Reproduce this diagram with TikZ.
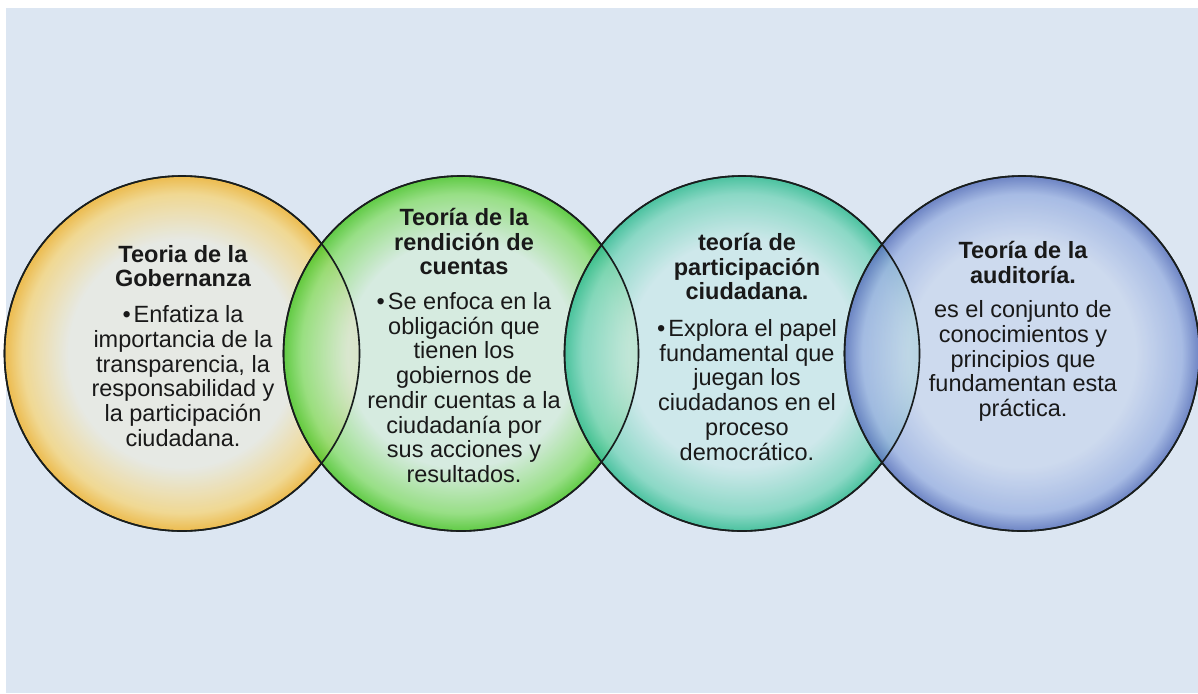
\documentclass[tikz,border=0pt]{standalone}
\usepackage{fontspec}
\setmainfont{Liberation Sans}
\usetikzlibrary{positioning}
\definecolor{bgblue}{RGB}{220,230,242}
\definecolor{rimgray}{RGB}{25,30,30}
\definecolor{bubin}{RGB}{255,255,255}
\definecolor{bubmid}{RGB}{200,200,200}
\definecolor{bubout}{RGB}{100,100,100}
\definecolor{gobin}{RGB}{232,234,226}
\definecolor{gobmid}{RGB}{244,214,130}
\definecolor{gobout}{RGB}{240,180,50}
\definecolor{renin}{RGB}{214,236,222}
\definecolor{renmid}{RGB}{140,222,115}
\definecolor{renout}{RGB}{75,198,40}
\definecolor{parin}{RGB}{204,233,234}
\definecolor{parmid}{RGB}{125,214,190}
\definecolor{parout}{RGB}{50,188,145}
\definecolor{audin}{RGB}{203,216,238}
\definecolor{audmid}{RGB}{158,180,226}
\definecolor{audout}{RGB}{90,115,188}
\pgfdeclareradialshading[bubin,bubmid,bubout]{bubble}{\pgfpoint{0bp}{0bp}}{color(0bp)=(bubin); color(16bp)=(bubin); color(22.5bp)=(bubmid); color(25bp)=(bubout); color(50bp)=(bubout)}
\tikzset{
  bubble/.style={circle, minimum size=355pt, inner sep=0pt, draw=rimgray, line width=1.6pt, fill opacity=0.85, shading=bubble,
    /utils/exec={\colorlet{bubin}{#1in}\colorlet{bubmid}{#1mid}\colorlet{bubout}{#1out}}},
  rim/.style={draw=rimgray, line width=1.6pt},
  caption/.style={anchor=north, align=center, inner sep=0pt, text=black!90, font=\fontsize{23.5}{24.7}\selectfont}
}

\begin{document}
\begin{tikzpicture}[x=1pt, y=-1pt]
  \useasboundingbox (0,0) rectangle (1198,693);
  \fill[bgblue] (6,8) rectangle (1198,693);

  \node[bubble=gob] (gob) at (182,353.5) {};
  \node[bubble=ren] (ren) at (461,353.5) {};
  \node[bubble=par] (par) at (742,353.5) {};
  \node[bubble=aud] (aud) at (1022,353.5) {};
  \foreach \c in {gob,ren,par,aud}
    \draw[rim] (\c.center) circle[radius=177.5];

  \node[caption] (gobtxt) at (183,245) {
    \textbf{Teoria de la}\\\textbf{Gobernanza}\\[11pt]
    •\hspace{3pt}Enfatiza la\\importancia de la\\transparencia, la\\responsabilidad y\\la participación\\ciudadana.
  };
  \node[caption] (rentxt) at (464,208) {
    \textbf{Teoría de la}\\\textbf{rendición de}\\\textbf{cuentas}\\[10pt]
    •\hspace{3pt}Se enfoca en la\\obligación que\\tienen los\\gobiernos de\\rendir cuentas a la\\ciudadanía por\\sus acciones y\\resultados.
  };
  \node[caption] (partxt) at (747,233) {
    \textbf{teoría de}\\\textbf{participación}\\\textbf{ciudadana.}\\[12pt]
    •\hspace{3pt}Explora el papel\\fundamental que\\juegan los\\ciudadanos en el\\proceso\\democrático.
  };
  \node[caption] (audtxt) at (1023,241) {
    \textbf{Teoría de la}\\\textbf{auditoría.}\\[10pt]
    es el conjunto de\\conocimientos y\\principios que\\fundamentan esta\\práctica.
  };
\end{tikzpicture}
\end{document}
